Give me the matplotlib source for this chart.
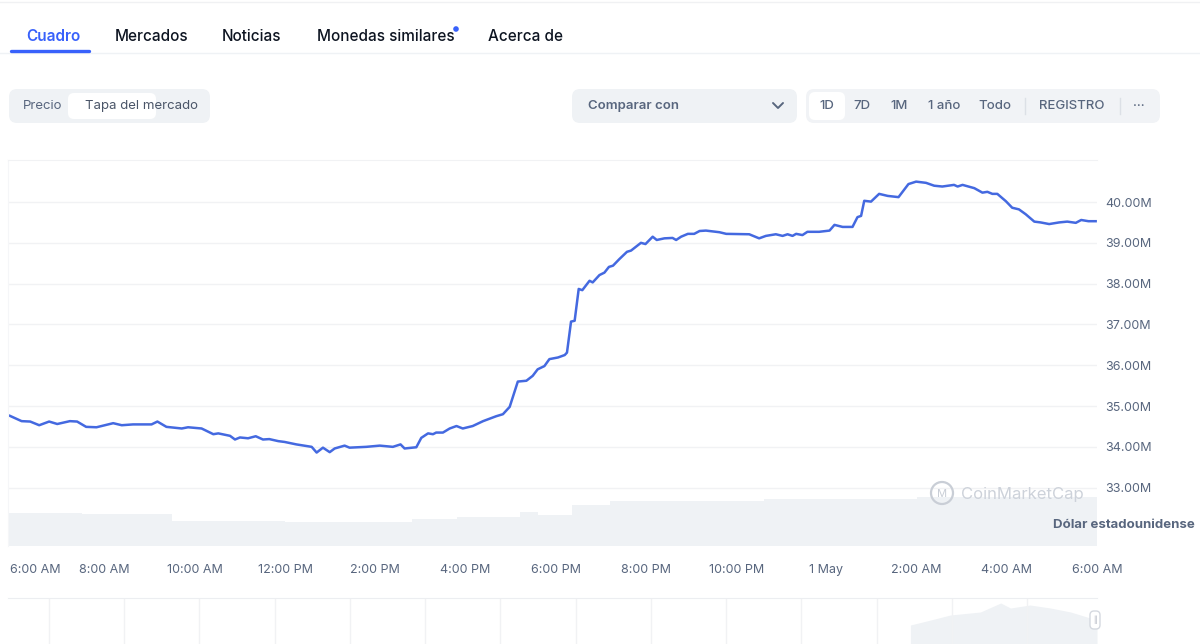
import matplotlib
matplotlib.use('Agg')
import matplotlib.pyplot as plt
import matplotlib.transforms as mtransforms
from matplotlib.patches import FancyBboxPatch, Circle

plt.rcParams['font.family'] = ['Inter', 'DejaVu Sans']

# --- datos (horas desde las 6:00 AM, capitalización en millones USD) ---
horas = [-0.10, 0.16, 0.35, 0.55, 0.77, 0.95, 1.23, 1.39, 1.59, 1.82,
         2.19, 2.38, 2.63, 3.04, 3.17, 3.37, 3.71, 3.85, 4.15, 4.41,
         4.52, 4.78, 4.89, 5.00, 5.18, 5.35, 5.51, 5.65, 5.85, 5.99,
         6.25, 6.59, 6.70, 6.84, 6.99, 7.10, 7.32, 7.43, 7.80, 8.10,
         8.39, 8.56, 8.65, 8.91, 9.02, 9.17, 9.28, 9.35, 9.50, 9.65,
         9.80, 9.94, 10.16, 10.39, 10.68, 10.83, 10.98, 11.16, 11.35, 11.49,
         11.60, 11.75, 11.86, 12.05, 12.20, 12.25, 12.34, 12.42, 12.51, 12.59,
         12.75, 12.82, 12.97, 13.08, 13.18, 13.27, 13.41, 13.58, 13.67, 13.89,
         13.99, 14.15, 14.24, 14.41, 14.59, 14.67, 14.78, 14.93, 15.07, 15.19,
         15.33, 15.63, 15.78, 16.29, 16.51, 16.66, 16.88, 17.03, 17.14, 17.25,
         17.33, 17.47, 17.58, 17.84, 18.07, 18.18, 18.36, 18.58, 18.69, 18.77,
         18.84, 18.99, 19.17, 19.36, 19.60, 19.82, 19.99, 20.21, 20.39, 20.57,
         20.83, 20.91, 21.02, 21.28, 21.46, 21.57, 21.68, 21.79, 21.98, 22.12,
         22.27, 22.42, 22.61, 22.75, 22.94, 23.16, 23.34, 23.53, 23.65, 23.81,
         23.97]
cap = [34.76, 34.63, 34.62, 34.53, 34.62, 34.56, 34.63, 34.62, 34.49, 34.48,
       34.58, 34.53, 34.55, 34.55, 34.62, 34.49, 34.45, 34.48, 34.45, 34.31,
       34.33, 34.27, 34.18, 34.23, 34.21, 34.26, 34.18, 34.19, 34.14, 34.12,
       34.06, 34.00, 33.86, 33.98, 33.87, 33.96, 34.03, 33.98, 34.00, 34.03,
       34.00, 34.06, 33.96, 33.99, 34.22, 34.33, 34.31, 34.35, 34.35, 34.45,
       34.51, 34.45, 34.51, 34.63, 34.75, 34.80, 34.98, 35.60, 35.62, 35.74,
       35.90, 35.98, 36.15, 36.19, 36.25, 36.31, 37.07, 37.09, 37.87, 37.84,
       38.07, 38.03, 38.21, 38.27, 38.41, 38.44, 38.60, 38.78, 38.81, 39.00,
       38.97, 39.15, 39.07, 39.11, 39.12, 39.07, 39.15, 39.22, 39.22, 39.29,
       39.30, 39.26, 39.22, 39.21, 39.11, 39.17, 39.21, 39.17, 39.21, 39.17,
       39.22, 39.19, 39.27, 39.27, 39.30, 39.44, 39.39, 39.39, 39.63, 39.66,
       40.03, 40.01, 40.20, 40.15, 40.12, 40.44, 40.50, 40.47, 40.40, 40.38,
       40.42, 40.38, 40.42, 40.34, 40.23, 40.25, 40.20, 40.20, 40.02, 39.86,
       39.82, 39.70, 39.52, 39.50, 39.46, 39.50, 39.52, 39.49, 39.56, 39.53,
       39.53]

# volumen (unidades relativas) por tramos
vol_bordes = [-0.14, 1.5, 3.5, 6, 8.8, 9.8, 11.2, 11.6, 12.35, 13.2, 16.6, 20, 23.98]
volumen = [33, 32, 25, 24, 27, 29, 34, 31, 41, 45, 47, 49]

# navegador inferior (historia larga, unidades relativas)
nav_x = [11.45, 11.72, 11.98, 12.38, 12.65, 12.78, 13.04, 13.31, 13.58, 13.84, 13.93]
nav_y = [19, 24, 29, 32, 41, 36, 39, 36, 32, 26, 22]

y_ticks = [33, 34, 35, 36, 37, 38, 39, 40]
x_ticks = [0, 2, 4, 6, 8, 10, 12, 14, 16, 18, 20, 22, 24]
x_labels = ['6:00 AM', '8:00 AM', '10:00 AM', '12:00 PM', '2:00 PM', '4:00 PM',
            '6:00 PM', '8:00 PM', '10:00 PM', '1 May', '2:00 AM', '4:00 AM', '6:00 AM']

pestanas = ['Cuadro', 'Mercados', 'Noticias', 'Monedas similares', 'Acerca de']
pestanas_x = [26, 115, 222, 317, 488]
periodos = ['1D', '7D', '1M', '1 año', 'Todo', 'REGISTRO', '···']
periodos_x = [827, 862, 899, 944, 995, 1072, 1139]

W, H = 1200, 644
AZUL = '#3861FB'
GRIS = '#58667E'
CAJA = '#EFF2F5'
REJILLA = '#F1F2F4'


def rect(x0, y0, x1, y1):
    return [x0 / W, 1 - y1 / H, (x1 - x0) / W, (y1 - y0) / H]


fig = plt.figure(figsize=(12, 6.44), dpi=100)
fig.patch.set_facecolor('white')

# volumen (detrás)
axv = fig.add_axes(rect(8, 160, 1097, 546))
axv.stairs(volumen, vol_bordes, fill=True, color=CAJA, lw=0)
axv.set_xlim(-0.142, 23.98)
axv.set_ylim(0, max(volumen) * 7.88)
axv.axis('off')

# gráfico principal
ax = fig.add_axes(rect(8, 160, 1097, 546))
ax.patch.set_visible(False)
ax.plot(horas, cap, color='#4469E0', lw=1.8, solid_joinstyle='round')
ax.set_xlim(-0.142, 23.98)
ax.set_ylim(31.57, 41.03)
ax.set_yticks(y_ticks)
ax.set_yticklabels([f'{v:.2f}M' for v in y_ticks])
ax.yaxis.tick_right()
ax.tick_params(axis='y', length=0, pad=6, labelsize=9, labelcolor=GRIS)
ax.set_xticks(x_ticks)
ax.set_xticklabels(x_labels)
ax.tick_params(axis='x', length=0, pad=13, labelsize=9, labelcolor=GRIS)
primera = ax.get_xticklabels()[0]
primera.set_horizontalalignment('left')
primera.set_transform(primera.get_transform() +
                      mtransforms.ScaledTranslation(-4 / 100, 0, fig.dpi_scale_trans))
ax.grid(axis='y', color=REJILLA, lw=1)
ax.set_axisbelow(True)
for s in ['right', 'bottom']:
    ax.spines[s].set_visible(False)
ax.spines['top'].set_color(REJILLA)
ax.spines['left'].set_color('#F5F6F8')

# navegador
axn = fig.add_axes(rect(8, 598, 1097, 644))
axn.fill_between(nav_x, nav_y, color=CAJA, lw=0)
axn.set_xlim(-0.545, 13.93)
axn.set_ylim(0, 46)
axn.set_xticks(range(14))
axn.grid(axis='x', color=REJILLA, lw=1)
axn.tick_params(length=0, labelbottom=False, labelleft=False)
for s in ['right', 'bottom', 'left']:
    axn.spines[s].set_visible(False)
axn.spines['top'].set_color('#ECEEF1')

# interfaz (píxeles)
ui = fig.add_axes([0, 0, 1, 1])
ui.set_xlim(0, W)
ui.set_ylim(H, 0)
ui.axis('off')
ui.patch.set_visible(False)

ui.plot([0, W], [2, 2], color='#F0F1F3', lw=1)
ui.plot([0, W], [53, 53], color=CAJA, lw=1)
for nombre, x in zip(pestanas, pestanas_x):
    activo = nombre == 'Cuadro'
    ui.text(x, 36, nombre, fontsize=11, va='center', ha='left',
            color=AZUL if activo else '#0D1421',
            fontweight='semibold' if activo else 'medium')
ui.plot([11, 89], [51, 51], color=AZUL, lw=2.4, solid_capstyle='round')
ui.add_patch(Circle((456, 29), 2.8, color=AZUL, lw=0))

# Precio / Tapa del mercado
ui.add_patch(FancyBboxPatch((9, 89), 201, 34, boxstyle='round,pad=0,rounding_size=8',
                            fc=CAJA, ec='none'))
ui.add_patch(FancyBboxPatch((68, 93), 88, 26, boxstyle='round,pad=0,rounding_size=6',
                            fc='white', ec='none'))
ui.text(23, 106, 'Precio', fontsize=9.5, color=GRIS, va='center')
ui.text(85, 106, 'Tapa del mercado', fontsize=9.5, color='#4A5568', va='center')

# Comparar con
ui.add_patch(FancyBboxPatch((572, 89), 225, 34, boxstyle='round,pad=0,rounding_size=8',
                            fc=CAJA, ec='none'))
ui.text(588, 106, 'Comparar con', fontsize=9.5, color=GRIS, va='center', fontweight='semibold')
ui.plot([773, 778, 783], [103, 108, 103], color=GRIS, lw=1.4, solid_capstyle='round')

# periodos
ui.add_patch(FancyBboxPatch((806, 89), 354, 34, boxstyle='round,pad=0,rounding_size=8',
                            fc='#F1F3F6', ec='none'))
ui.add_patch(FancyBboxPatch((809, 92), 36, 28, boxstyle='round,pad=0,rounding_size=6',
                            fc='white', ec='none'))
for nombre, x in zip(periodos, periodos_x):
    ui.text(x, 106, nombre, fontsize=9.5, color=GRIS, va='center', ha='center',
            fontweight='medium')
for x in [1025, 1120]:
    ui.plot([x, x], [98, 114], color='#DCE0E6', lw=1)

# marca de agua
ui.add_patch(Circle((942, 493), 11, fc='none', ec='#C9CED6', lw=1.6))
ui.text(942, 494, 'M', fontsize=8, color='#C9CED6', ha='center', va='center')
ui.text(961, 494, 'CoinMarketCap', fontsize=12, color='#CDD2DA', va='center')

ui.text(1195, 525, 'Dólar estadounidense', fontsize=9.5, color=GRIS, va='center',
        ha='right', fontweight='bold')

# asa del navegador
ui.add_patch(FancyBboxPatch((1090, 611), 10, 18, boxstyle='round,pad=0,rounding_size=4',
                            fc='white', ec='#D5D9E0', lw=1))
ui.text(1095, 620, '||', fontsize=5, color='#A0A7B4', ha='center', va='center')

fig.savefig('out.png', dpi=100)
